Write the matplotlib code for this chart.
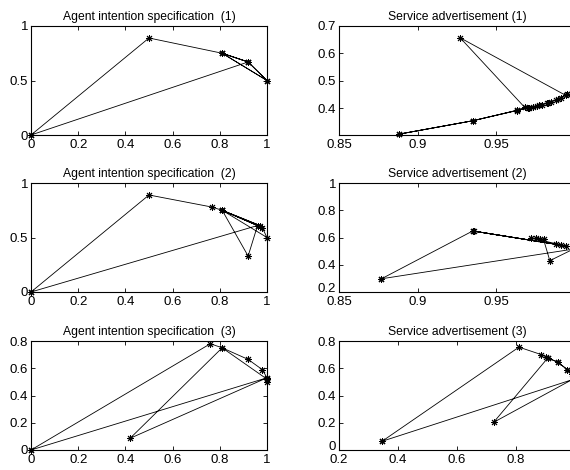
import matplotlib
matplotlib.use("Agg")
import matplotlib.pyplot as plt
import matplotlib.transforms as mtransforms

plt.rcParams['font.family'] = ['Liberation Sans', 'DejaVu Sans']
plt.rcParams['font.size'] = 9

# Trajectories (x = first component, y = second component)
agent1_x = [0.00, 0.50, 0.81, 0.92, 1.00, 0.81, 1.00, 0.92, 0.81, 0.92, 0.00]
agent1_y = [0.00, 0.89, 0.75, 0.67, 0.50, 0.75, 0.50, 0.67, 0.75, 0.67, 0.00]

agent2_x = [0.00, 0.50, 0.765, 0.81, 0.96, 0.81, 0.97, 0.81, 0.98, 1.00, 0.81, 0.92, 0.96, 0.00]
agent2_y = [0.00, 0.89, 0.78, 0.75, 0.61, 0.75, 0.61, 0.75, 0.59, 0.50, 0.75, 0.33, 0.61, 0.00]

agent3_x = [0.00, 0.76, 0.81, 0.92, 0.98, 1.00, 0.42, 0.81, 1.00, 1.00, 1.00, 0.00]
agent3_y = [0.00, 0.78, 0.75, 0.665, 0.59, 0.53, 0.086, 0.75, 0.52, 0.50, 0.53, 0.00]

service1_x = [0.888, 0.935, 0.963, 0.970, 0.973, 0.976, 0.979, 0.982, 0.985, 0.988,
              0.991, 0.994, 0.927, 0.968, 0.963, 0.935, 0.888, 0.935, 0.963, 0.971,
              0.977, 0.983, 0.989, 0.995, 0.999]
service1_y = [0.305, 0.354, 0.392, 0.400, 0.404, 0.408, 0.413, 0.418, 0.424, 0.430,
              0.437, 0.447, 0.657, 0.403, 0.392, 0.354, 0.305, 0.354, 0.391, 0.402,
              0.410, 0.420, 0.433, 0.452, 0.468]

service2_x = [0.877, 0.935, 0.988, 0.935, 0.991, 0.936, 0.994, 0.972, 0.975, 0.978,
              0.980, 0.984, 0.999, 0.877]
service2_y = [0.297, 0.648, 0.550, 0.648, 0.545, 0.646, 0.538, 0.597, 0.593, 0.590,
              0.586, 0.430, 0.515, 0.297]

service3_x = [0.346, 0.810, 0.886, 0.900, 0.908, 0.942, 0.974, 0.990, 0.999, 0.724,
              0.908, 0.942, 0.974, 0.999, 0.346]
service3_y = [0.064, 0.755, 0.700, 0.686, 0.676, 0.644, 0.590, 0.560, 0.527, 0.203,
              0.676, 0.644, 0.590, 0.522, 0.064]

titles = ["Agent intention specification  (1)", "Service advertisement (1)",
          "Agent intention specification  (2)", "Service advertisement (2)",
          "Agent intention specification  (3)", "Service advertisement (3)"]

series = [(agent1_x, agent1_y), (service1_x, service1_y),
          (agent2_x, agent2_y), (service2_x, service2_y),
          (agent3_x, agent3_y), (service3_x, service3_y)]

xlims = [(0, 1), (0.85, 1.0), (0, 1), (0.85, 1.0), (0, 1), (0.2, 1.0)]
ylims = [(0, 1), (0.302, 0.7), (0, 1), (0.2, 1.0), (0, 0.8), (0, 0.8)]
xticks = [[0, 0.2, 0.4, 0.6, 0.8, 1], [0.85, 0.9, 0.95, 1.0],
          [0, 0.2, 0.4, 0.6, 0.8, 1], [0.85, 0.9, 0.95, 1.0],
          [0, 0.2, 0.4, 0.6, 0.8, 1], [0.2, 0.4, 0.6, 0.8, 1.0]]
# the right-hand panels run past the figure edge, so their last x label is not shown
xticklabels = [["0", "0.2", "0.4", "0.6", "0.8", "1"], ["0.85", "0.9", "0.95", ""],
               ["0", "0.2", "0.4", "0.6", "0.8", "1"], ["0.85", "0.9", "0.95", ""],
               ["0", "0.2", "0.4", "0.6", "0.8", "1"], ["0.2", "0.4", "0.6", "0.8", ""]]
yticks = [[0, 0.5, 1], [0.4, 0.5, 0.6, 0.7], [0, 0.5, 1], [0.2, 0.4, 0.6, 0.8, 1.0],
          [0, 0.2, 0.4, 0.6, 0.8], [0, 0.2, 0.4, 0.6, 0.8]]
yticklabels = [["0", "0.5", "1"], ["0.4", "0.5", "0.6", "0.7"], ["0", "0.5", "1"],
               ["0.2", "0.4", "0.6", "0.8", "1"], ["0", "0.2", "0.4", "0.6", "0.8"],
               ["0", "0.2", "0.4", "0.6", "0.8"]]

W, H = 570, 470
fig = plt.figure(figsize=(W / 100, H / 100), dpi=100)

col_left = [31, 339]
row_top = [26, 183, 341]
ax_w, ax_h = 236, 109

asterisk = (8, 2, 0)

for i in range(6):
    r, c = divmod(i, 2)
    left = col_left[c] / W
    bottom = 1 - (row_top[r] + ax_h) / H
    ax = fig.add_axes([left, bottom, ax_w / W, ax_h / H])
    x, y = series[i]
    ax.plot(x, y, color='black', linewidth=0.6, marker=asterisk,
            markersize=5, markeredgewidth=0.7, clip_on=False)
    ax.set_xlim(*xlims[i])
    ax.set_ylim(*ylims[i])
    ax.set_xticks(xticks[i])
    ax.set_xticklabels(xticklabels[i])
    ax.set_yticks(yticks[i])
    ax.set_yticklabels(yticklabels[i])
    ax.tick_params(axis='both', direction='in', top=True, right=True, length=3,
                   width=0.6, labelsize=9.5)
    ax.tick_params(axis='x', pad=3)
    ax.tick_params(axis='y', pad=2)
    for s in ax.spines.values():
        s.set_linewidth(0.8)
    ax.set_title(titles[i], fontsize=8.7, pad=4)

    # lift the lowest y label on the right-hand panels clear of the x labels
    if c == 1 and r > 0:
        lab = ax.get_yticklabels()[0]
        lab.set_transform(lab.get_transform() +
                          mtransforms.ScaledTranslation(0, 4 / 100, fig.dpi_scale_trans))

fig.savefig("out.png", dpi=100)
